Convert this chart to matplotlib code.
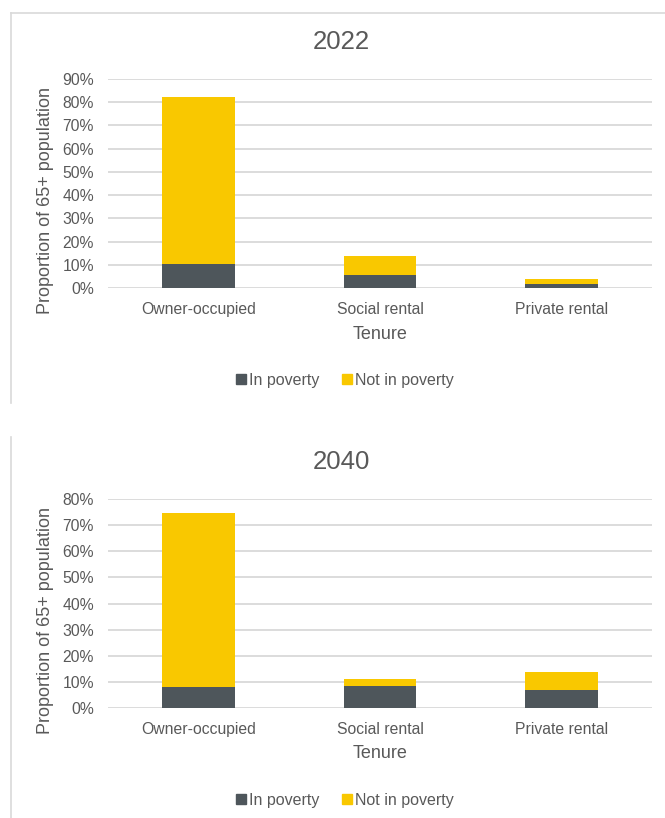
import matplotlib
matplotlib.use('Agg')
from matplotlib import pyplot as plt
from matplotlib.lines import Line2D
import numpy as np

plt.rcParams['font.family'] = ['Liberation Sans', 'DejaVu Sans']

tenure = ['Owner-occupied', 'Social rental', 'Private rental']
series = ['In poverty', 'Not in poverty']

poverty_2022 = [10.5, 5.6, 1.6]
not_poverty_2022 = [71.7, 8.2, 2.1]

poverty_2040 = [8.0, 8.3, 6.9]
not_poverty_2040 = [66.8, 2.9, 6.9]

dark = '#4E565B'
yellow = '#F9C800'
grey_text = '#595959'
grid_col = '#D9D9D9'

fig = plt.figure(figsize=(6.65, 8.18), dpi=100)

W, H = 665.0, 818.0


def draw_chart(top, year, poverty, not_poverty, ymax):
    # top = pixel y of the top gridline
    bottom_px = top + 209
    ax = fig.add_axes([108 / W, 1 - bottom_px / H, 544 / W, 209 / H])
    xs = np.arange(len(tenure))
    ax.bar(xs, poverty, 0.4, color=dark, zorder=3)
    ax.bar(xs, not_poverty, 0.4, bottom=poverty, color=yellow, zorder=3)
    ax.set_xlim(-0.5, 2.5)
    ax.set_ylim(0, ymax)
    ticks = list(range(0, ymax + 1, 10))
    ax.set_yticks(ticks)
    ax.set_yticklabels([str(t) + '%' for t in ticks])
    ax.yaxis.grid(True, color=grid_col, linewidth=1.3, zorder=0)
    ax.set_xticks(xs)
    ax.set_xticklabels(tenure)
    for s in ax.spines.values():
        s.set_visible(False)
    ax.tick_params(axis='both', length=0, labelsize=11.3, colors=grey_text)
    ax.tick_params(axis='y', pad=10)
    ax.tick_params(axis='x', pad=10)

    fig.text(341 / W, 1 - (top - 37) / H, year, ha='center', va='center',
             fontsize=18.5, color=grey_text)
    fig.text(380 / W, 1 - (top + 255) / H, 'Tenure', ha='center', va='center',
             fontsize=13, color=grey_text)
    fig.text(46 / W, 1 - (top + 122) / H, 'Proportion of 65+ population',
             ha='center', va='center', rotation=90, fontsize=13, color=grey_text)
    handles = [plt.Rectangle((0, 0), 1, 1, color=dark),
               plt.Rectangle((0, 0), 1, 1, color=yellow)]
    fig.legend(handles, series, loc='center', ncol=2, frameon=False,
               bbox_to_anchor=(345 / W, 1 - (top + 301) / H),
               handlelength=0.6, handleheight=0.6, handletextpad=0.2,
               columnspacing=1.4, fontsize=11.5, labelcolor=grey_text)
    return ax


draw_chart(79, '2022', poverty_2022, not_poverty_2022, 90)
draw_chart(499, '2040', poverty_2040, not_poverty_2040, 80)

# panel frames
frame = '#D9D9D9'
fig.add_artist(Line2D([11 / W, 11 / W], [1 - 13 / H, 1 - 403 / H], color=frame, lw=1.2))
fig.add_artist(Line2D([11 / W, 1], [1 - 13 / H, 1 - 13 / H], color=frame, lw=1.2))
fig.add_artist(Line2D([11 / W, 11 / W], [1 - 437 / H, 0], color=frame, lw=1.2))

fig.savefig('out.png', dpi=100)
